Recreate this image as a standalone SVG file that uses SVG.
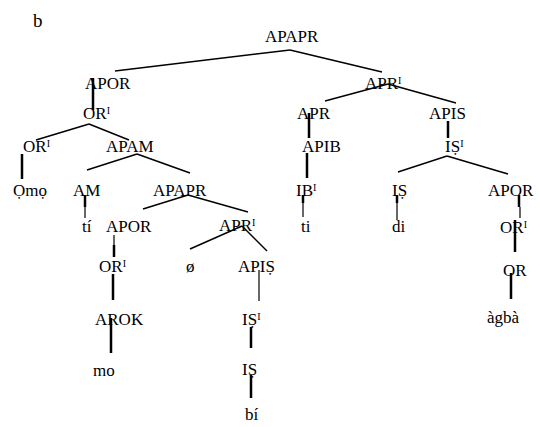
<svg xmlns="http://www.w3.org/2000/svg" width="540" height="427" viewBox="0 0 540 427">
<style>
text{font-family:"Liberation Serif","Times New Roman","DejaVu Serif",serif;font-size:17px;fill:#000}
.sup{font-size:10px}
.lbl{font-size:19px}
.d{stroke:#000;stroke-width:1.5;fill:none}
.v{stroke:#000;stroke-width:2.5;fill:none}
.t{stroke:#000;stroke-width:1.2;fill:none}
</style>
<rect width="540" height="427" fill="#fff"/>
<text class="lbl" x="33" y="27">b</text>
<g id="n-apapr"><text x="265" y="42">APAPR</text></g>
<g id="n-apor"><text x="85" y="89">APOR</text></g>
<g id="n-apr1"><text x="365" y="89">APR<tspan class="sup" dy="-5">I</tspan></text></g>
<g id="n-or1a"><text x="83" y="119">OR<tspan class="sup" dy="-5">I</tspan></text></g>
<g id="n-apr"><text x="297" y="119">APR</text></g>
<g id="n-apis"><text x="429" y="119">APIS</text></g>
<g id="n-or1b"><text x="23" y="152">OR<tspan class="sup" dy="-5">I</tspan></text></g>
<g id="n-apam"><text x="106" y="152">APAM</text></g>
<g id="n-apib"><text x="302" y="152">APIB</text></g>
<g id="n-is1a"><text x="445" y="152">IṢ<tspan class="sup" dy="-5">I</tspan></text></g>
<g id="n-omo"><text x="13" y="196">Ọmọ</text></g>
<g id="n-am"><text x="73" y="196">AM</text></g>
<g id="n-apapr2"><text x="153" y="196">APAPR</text></g>
<g id="n-ib1"><text x="296" y="196">IB<tspan class="sup" dy="-5">I</tspan></text></g>
<g id="n-is-a"><text x="392" y="196">IṢ</text></g>
<g id="n-apor3"><text x="488" y="196">APOR</text></g>
<g id="n-ti1"><text x="82" y="232">tí</text></g>
<g id="n-apor2"><text x="106" y="232">APOR</text></g>
<g id="n-apr1b"><text x="219" y="231">APR<tspan class="sup" dy="-5">I</tspan></text></g>
<g id="n-ti2"><text x="301" y="232">ti</text></g>
<g id="n-di"><text x="392" y="232">di</text></g>
<g id="n-or1d"><text x="500" y="233">OR<tspan class="sup" dy="-5">I</tspan></text></g>
<g id="n-or1c"><text x="99" y="272">OR<tspan class="sup" dy="-5">I</tspan></text></g>
<g id="n-null"><text x="186" y="272">ø</text></g>
<g id="n-apis2"><text x="238" y="272">APIṢ</text></g>
<g id="n-or"><text x="503" y="276">OR</text></g>
<g id="n-arok"><text x="95" y="325">AROK</text></g>
<g id="n-is1b"><text x="242" y="325">IṢ<tspan class="sup" dy="-5">I</tspan></text></g>
<g id="n-agba"><text x="487" y="323">àgbà</text></g>
<g id="n-mo"><text x="93" y="376">mo</text></g>
<g id="n-is-b"><text x="242" y="375">IṢ</text></g>
<g id="n-bi"><text x="245" y="420">bí</text></g>
<g id="connectors">
<line class="d" x1="290" y1="50" x2="115" y2="71"/>
<line class="d" x1="290" y1="50" x2="382" y2="72"/>
<line class="v" x1="93" y1="78" x2="93" y2="110"/>
<line class="d" x1="89" y1="124" x2="36" y2="140"/>
<line class="d" x1="89" y1="124" x2="129" y2="140"/>
<line class="d" x1="388" y1="84" x2="325" y2="101"/>
<line class="d" x1="388" y1="84" x2="456" y2="103"/>
<line class="v" x1="309" y1="113" x2="309" y2="138"/>
<line class="v" x1="448" y1="121" x2="448" y2="138"/>
<line class="v" x1="22" y1="154" x2="22" y2="179"/>
<line class="d" x1="137" y1="154" x2="87" y2="170"/>
<line class="d" x1="137" y1="154" x2="190" y2="173"/>
<line class="v" x1="307" y1="153" x2="307" y2="178"/>
<line class="d" x1="447" y1="156" x2="398" y2="172"/>
<line class="d" x1="447" y1="156" x2="508" y2="174"/>
<line class="v" x1="85" y1="195" x2="85" y2="207"/>
<line class="t" x1="85" y1="207" x2="85" y2="218"/>
<line class="d" x1="188" y1="195" x2="143" y2="209"/>
<line class="d" x1="188" y1="195" x2="248" y2="212"/>
<line class="v" x1="303" y1="195" x2="303" y2="203"/>
<line class="t" x1="303" y1="203" x2="303" y2="217"/>
<line class="v" x1="397" y1="195" x2="397" y2="203"/>
<line class="t" x1="397" y1="203" x2="397" y2="220"/>
<line class="v" x1="519" y1="195" x2="519" y2="207"/>
<line class="t" x1="520" y1="207" x2="520" y2="218"/>
<line class="t" x1="114" y1="235" x2="114" y2="245"/>
<line class="v" x1="114" y1="245" x2="114" y2="257"/>
<line class="d" x1="242" y1="226" x2="190" y2="249"/>
<line class="d" x1="242" y1="226" x2="267" y2="251"/>
<line class="v" x1="515" y1="220" x2="515" y2="252"/>
<line class="v" x1="113" y1="274" x2="113" y2="300"/>
<line class="t" x1="259" y1="270" x2="259" y2="301"/>
<line class="v" x1="511" y1="273" x2="511" y2="299"/>
<line class="v" x1="111" y1="318" x2="111" y2="353"/>
<line class="v" x1="251" y1="327" x2="251" y2="348"/>
<line class="v" x1="251" y1="375" x2="251" y2="398"/>
</g>
</svg>
